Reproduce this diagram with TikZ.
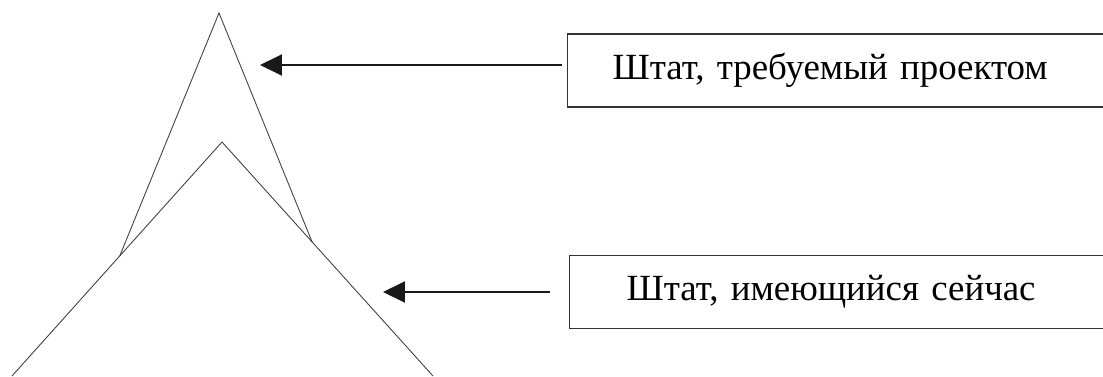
\documentclass[tikz,border=0pt]{standalone}
\usepackage{fontspec}
\setmainfont{Liberation Serif}
\usetikzlibrary{arrows.meta,positioning,calc}

\begin{document}
\begin{tikzpicture}[
    %–––– GLOBAL STYLE TWEAKS ––––
    x=0.02cm, y=-0.02cm,                             % 1 unit = 1 px of the sketch
    font=\fontsize{21}{25}\selectfont,
    pyramid/.style = {draw=black!75, line width=0.5pt, line join=miter},
    statebox/.style = {rectangle, draw=black!80, line width=0.8pt,
                       anchor=west, minimum height=1.46cm,
                       text width=9.2cm, align=left,
                       inner xsep=0.9cm, inner ysep=0pt},
    arrow/.style = {-{Triangle[length=0.44cm,width=0.42cm]},
                    line width=1.1pt, draw=black!90},
]
\clip (0,0) rectangle (1103,376);
\useasboundingbox (0,0) rectangle (1103,376);

%–––– PYRAMIDS ––––
\coordinate (wideTop)   at (222,142);
\coordinate (wideLeft)  at (12,376);
\coordinate (wideRight) at (433,376);
\coordinate (tallTop)   at (219,13);
\coordinate (tallLeft)  at ($(wideTop)!0.487!(wideLeft)$);
\coordinate (tallRight) at ($(wideTop)!0.427!(wideRight)$);

\draw[pyramid] (wideLeft) -- (wideTop) -- (wideRight);
\draw[pyramid] (tallLeft) -- (tallTop) -- (tallRight);

%–––– LABEL BOXES ––––
\node (required) [statebox] at (567,70.5) {Штат, требуемый проектом};
\node (current)  [statebox, inner xsep=1.14cm] at (569,292) {Штат, имеющийся сейчас};

%–––– ARROWS ––––
\coordinate (tipReq) at (260,65);
\coordinate (tipCur) at (383,292);

\draw[arrow, shorten <=0.1cm]  (required.west |- tipReq) -- (tipReq);
\draw[arrow, shorten <=0.38cm] (current.west |- tipCur) -- (tipCur);
\end{tikzpicture}
\end{document}
